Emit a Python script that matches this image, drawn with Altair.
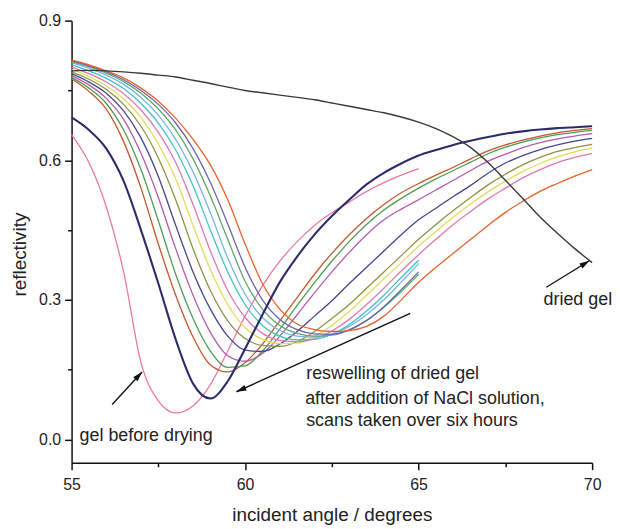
import altair as alt
import pandas as pd

angle = [55.0, 55.5, 56.0, 56.5, 57.0, 57.5, 58.0, 58.5, 59.0, 59.5, 60.0, 60.5, 61.0, 61.5, 62.0, 62.5,
         63.0, 63.5, 64.0, 64.5, 65.0, 65.5, 66.0, 66.5, 67.0, 67.5, 68.0, 68.5, 69.0, 69.5, 70.0]

dried_gel = [0.792, 0.793, 0.792, 0.790, 0.787, 0.783, 0.779, 0.772, 0.765, 0.757, 0.750, 0.745, 0.740, 0.735,
             0.730, 0.723, 0.716, 0.709, 0.702, 0.693, 0.682, 0.668, 0.650, 0.627, 0.595, 0.557, 0.518, 0.478,
             0.443, 0.410, 0.380]
gel_before = [0.655, 0.595, 0.500, 0.360, 0.165, 0.083, 0.057, 0.072, 0.118, 0.190, 0.265, 0.330, 0.383, 0.425,
              0.460, 0.487, 0.510, 0.533, 0.552, 0.568, 0.582]
scan_b = [0.692, 0.665, 0.625, 0.555, 0.450, 0.335, 0.215, 0.120, 0.088, 0.125, 0.195, 0.268, 0.338, 0.393, 0.440,
          0.480, 0.515, 0.548, 0.573, 0.593, 0.610, 0.622, 0.633, 0.642, 0.650, 0.657, 0.662, 0.666, 0.669, 0.671, 0.673]
scan_c = [0.775, 0.748, 0.710, 0.640, 0.540, 0.420, 0.310, 0.220, 0.160, 0.145, 0.165, 0.205, 0.255, 0.305, 0.355,
          0.400, 0.440, 0.475, 0.505, 0.530, 0.550, 0.568, 0.585, 0.603, 0.620, 0.633, 0.643, 0.652, 0.659, 0.664, 0.668]
scan_d = [0.778, 0.755, 0.722, 0.665, 0.580, 0.470, 0.355, 0.260, 0.190, 0.155, 0.158, 0.190, 0.237, 0.288, 0.337,
          0.383, 0.425, 0.462, 0.493, 0.518, 0.540, 0.560, 0.578, 0.596, 0.614, 0.628, 0.639, 0.648, 0.655, 0.660, 0.664]
scan_e = [0.782, 0.762, 0.733, 0.688, 0.615, 0.520, 0.410, 0.310, 0.230, 0.180, 0.168, 0.185, 0.222, 0.268, 0.315,
          0.360, 0.402, 0.440, 0.472, 0.495, 0.515, 0.536, 0.557, 0.578, 0.598, 0.613, 0.627, 0.638, 0.646, 0.652, 0.657]
scan_f = [0.786, 0.768, 0.744, 0.706, 0.648, 0.565, 0.460, 0.360, 0.280, 0.222, 0.192, 0.189, 0.205, 0.232, 0.265,
          0.298, 0.335, 0.370, 0.405, 0.440, 0.472, 0.497, 0.522, 0.546, 0.572, 0.594, 0.610, 0.623, 0.633, 0.641, 0.647]
scan_g = [0.790, 0.774, 0.752, 0.720, 0.673, 0.605, 0.515, 0.410, 0.320, 0.255, 0.217, 0.202, 0.200, 0.210, 0.232,
          0.260, 0.290, 0.325, 0.360, 0.395, 0.430, 0.462, 0.492, 0.520, 0.547, 0.570, 0.590, 0.606, 0.619, 0.627, 0.634]
scan_h = [0.795, 0.780, 0.760, 0.732, 0.692, 0.635, 0.560, 0.460, 0.365, 0.290, 0.240, 0.215, 0.206, 0.207, 0.222,
          0.245, 0.275, 0.310, 0.345, 0.380, 0.415, 0.447, 0.478, 0.506, 0.532, 0.555, 0.576, 0.593, 0.607, 0.618, 0.626]
scan_i = [0.800, 0.786, 0.768, 0.743, 0.708, 0.660, 0.595, 0.505, 0.405, 0.320, 0.262, 0.228, 0.213, 0.210, 0.216,
          0.233, 0.258, 0.290, 0.325, 0.362, 0.397, 0.430, 0.462, 0.490, 0.517, 0.540, 0.562, 0.580, 0.595, 0.606, 0.615]
scan_j = [0.805, 0.792, 0.776, 0.754, 0.722, 0.680, 0.622, 0.545, 0.450, 0.360, 0.290, 0.245, 0.222, 0.214, 0.215,
          0.226, 0.247, 0.276, 0.310, 0.348, 0.385]
scan_k = [0.810, 0.798, 0.783, 0.763, 0.735, 0.697, 0.645, 0.575, 0.487, 0.390, 0.312, 0.262, 0.234, 0.222, 0.220,
          0.226, 0.243, 0.268, 0.300, 0.338, 0.378]
scan_l = [0.812, 0.801, 0.787, 0.769, 0.744, 0.710, 0.665, 0.603, 0.523, 0.430, 0.340, 0.280, 0.245, 0.228, 0.222,
          0.224, 0.236, 0.256, 0.284, 0.318, 0.355]
scan_m = [0.814, 0.803, 0.790, 0.773, 0.750, 0.720, 0.680, 0.625, 0.552, 0.463, 0.370, 0.300, 0.258, 0.236, 0.227,
          0.226, 0.235, 0.255, 0.285, 0.322, 0.360]
scan_n = [0.815, 0.805, 0.792, 0.777, 0.755, 0.727, 0.690, 0.645, 0.590, 0.515, 0.420, 0.335, 0.280, 0.248, 0.236,
          0.232, 0.234, 0.243, 0.265, 0.300, 0.338, 0.370, 0.400, 0.430, 0.460, 0.488, 0.512, 0.533, 0.550, 0.566, 0.580]

series_names = ["a", "c", "d", "e", "f", "g", "h", "i", "j", "k", "l", "m", "n", "b", "dried"]
series_values = [gel_before, scan_c, scan_d, scan_e, scan_f, scan_g, scan_h, scan_i, scan_j, scan_k,
                 scan_l, scan_m, scan_n, scan_b, dried_gel]
series_colors = ["#e97aa5", "#c4572b", "#4e9d55", "#b25daa", "#45458f", "#8f9347", "#e3dc5a", "#de79b5",
                 "#3fc1cf", "#78b6e3", "#5fa869", "#6a66b0", "#e8622c", "#2b2d6b", "#3a3a3a"]

rows = []
for name, vals in zip(series_names, series_values):
    for a, v in zip(angle, vals):
        rows.append({"series": name, "angle": a, "refl": v})
df = pd.DataFrame(rows)

label_text = ["gel before drying", "reswelling of dried gel", "after addition of NaCl solution,",
              "scans taken over six hours", "dried gel"]
label_x = [55.23, 61.76, 61.73, 61.76, 68.6]
label_y = [-0.004, 0.130, 0.077, 0.028, 0.288]
labels = pd.DataFrame({"text": label_text, "x": label_x, "y": label_y})

arrow_x = [56.17, 64.76, 68.68]
arrow_y = [0.075, 0.271, 0.327]
arrow_x2 = [57.03, 59.75, 69.92]
arrow_y2 = [0.145, 0.1025, 0.384]
arrow_angle = [42, 246, 58]
arrows = pd.DataFrame({"x": arrow_x, "y": arrow_y, "x2": arrow_x2, "y2": arrow_y2, "ang": arrow_angle})

xscale = alt.Scale(domain=[55, 70], nice=False, zero=False)
yscale = alt.Scale(domain=[-0.05, 0.9], nice=False, zero=False)

xaxis = alt.Axis(
    values=[55, 57.5, 60, 62.5, 65, 67.5, 70],
    labelExpr="datum.value % 5 == 0 ? datum.label : ''",
    format="d",
    tickSize={"condition": {"test": "datum.value % 5 != 0", "value": 4}, "value": 7},
    title="incident angle / degrees",
    titleY=58, titleBaseline="alphabetic",
    labelPadding=7, labelFlush=False,
)
yaxis = alt.Axis(
    values=[0, 0.15, 0.3, 0.45, 0.6, 0.75, 0.9],
    format=".1f",
    labelExpr="round(datum.value * 100) % 30 == 0 ? datum.label : ''",
    tickSize={"condition": {"test": "round(datum.value * 100) % 30 != 0", "value": 4}, "value": 7},
    title="reflectivity",
    titleAngle=270, titleAlign="center", titleBaseline="middle",
    titleX=-52, titleY=235,
    labelPadding=4, labelFlush=False,
)

color = alt.Color("series:N", scale=alt.Scale(domain=series_names, range=series_colors), legend=None)

base = alt.Chart(df)
thin = base.mark_line(strokeWidth=1.3, interpolate="monotone").encode(
    x=alt.X("angle:Q", scale=xscale, axis=xaxis),
    y=alt.Y("refl:Q", scale=yscale, axis=yaxis),
    color=color,
).transform_filter("datum.series != 'b' && datum.series != 'dried' && datum.refl != null")

thick = base.mark_line(strokeWidth=2.1, interpolate="monotone").encode(
    x="angle:Q", y="refl:Q", color=color,
).transform_filter("datum.series == 'b'")

dried = base.mark_line(strokeWidth=1.4, interpolate="monotone").encode(
    x="angle:Q", y="refl:Q", color=color,
).transform_filter("datum.series == 'dried'")

text = alt.Chart(labels).mark_text(
    align="left", baseline="alphabetic", font="Liberation Sans", fontSize=18, color="#222"
).encode(x="x:Q", y="y:Q", text="text:N")

arrow_lines = alt.Chart(arrows).mark_rule(color="#111", strokeWidth=1.4).encode(
    x="x:Q", y="y:Q", x2="x2:Q", y2="y2:Q"
)
arrow_heads = alt.Chart(arrows).mark_point(
    shape="M0,0L-0.3,1L0.3,1Z", filled=True, size=400, color="#111", opacity=1
).encode(x="x2:Q", y="y2:Q", angle=alt.Angle("ang:Q", scale=None))

chart = alt.layer(thin, thick, dried, arrow_lines, arrow_heads, text).properties(
    width=524, height=445,
    autosize=alt.AutoSizeParams(type="none"),
    padding={"left": 64, "top": 11, "right": 20, "bottom": 64},
    background="white",
).configure_view(stroke=None).configure_axis(
    grid=False, domainColor="#111", domainWidth=1.5, tickColor="#111", tickWidth=1.5,
    labelFont="Liberation Sans", labelFontSize=16, labelColor="#222",
    titleFont="Liberation Sans", titleFontSize=19, titleFontWeight="normal", titleColor="#222",
)

chart.save("out.html", embed_options={"renderer": "svg", "actions": False})
